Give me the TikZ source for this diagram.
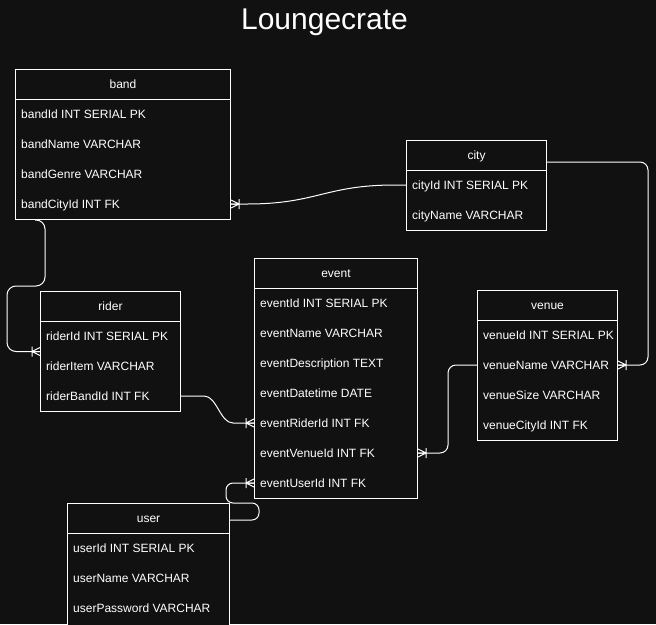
\documentclass[tikz,border=0pt]{standalone}
\usepackage{fontspec}
\setmainfont{Liberation Sans}
\usetikzlibrary{calc}
\definecolor{bg}{RGB}{17,17,17}
\tikzset{
  tbl/.style={draw=white, fill=bg, line width=1pt, inner sep=0pt, rectangle, anchor=north west},
  tblline/.style={draw=white, line width=1pt},
  hdr/.style={text=white, inner sep=0pt, anchor=base, font=\fontsize{12}{14}\selectfont},
  rowtxt/.style={text=white, inner sep=0pt, anchor=base west, font=\fontsize{12}{14}\selectfont},
  titletxt/.style={text=white, inner sep=0pt, anchor=base, font=\fontsize{30}{36}\selectfont},
  conn/.style={draw=white, line width=1pt, line join=round},
  crow/.pic={\draw[conn] (0,4) -- (8,0) -- (0,-4) (0,0) -- (8,0) (8,-5) -- (8,5);}
}
\newcommand{\ertable}[7]{% name, left, top, width, height, title, rows
  \node[tbl, minimum width=#4pt, minimum height=#5pt] (#1) at (#2,#3) {};
  \draw[tblline] ([yshift=-30pt]#1.north west) -- ([yshift=-30pt]#1.north east);
  \node[hdr] (#1-h) at ([yshift=-19.3pt]#1.north) {#6};
  \foreach \t [count=\i] in {#7} {
    \coordinate (#1-r\i) at ([yshift={-(45+30*(\i-1))*1pt}]#1.north west);
    \node[rowtxt] (#1-t\i) at ($(#1-r\i)+(6,4.3)$) {\t};
  }
}
\begin{document}
\begin{tikzpicture}[x=1pt,y=-1pt]
\useasboundingbox (0,0) rectangle (656,624);
\fill[bg] (0,0) rectangle (656,624);
\node[titletxt] (title) at (324.5,29) {Loungecrate};

\ertable{band}{15}{69}{215}{150}{band}{bandId INT SERIAL PK, bandName VARCHAR, bandGenre VARCHAR, bandCityId INT FK}
\ertable{city}{406}{140}{140}{90}{city}{cityId INT SERIAL PK, cityName VARCHAR}
\ertable{rider}{40}{291}{140}{120}{rider}{riderId INT SERIAL PK, riderItem VARCHAR, riderBandId INT FK}
\ertable{event}{254}{258}{163}{240}{event}{eventId INT SERIAL PK, eventName VARCHAR, eventDescription TEXT, eventDatetime DATE, eventRiderId INT FK, eventVenueId INT FK, eventUserId INT FK}
\ertable{venue}{477}{290}{140}{150}{venue}{venueId INT SERIAL PK, venueName VARCHAR, venueSize VARCHAR, venueCityId INT FK}
\ertable{user}{67}{503}{162}{122}{user}{userId INT SERIAL PK, userName VARCHAR, userPassword VARCHAR}

% city -> band
\draw[conn] (city-r1) -- ++(-11,0) .. controls +(-70,0) and +(70,0) .. ($(band-r4 -| band.east)+(16,0)$) -- (band-r4 -| band.east);
\pic at (band-r4 -| band.east) {crow};
% band -> rider
\draw[conn, rounded corners=9pt] ($(band.south west)+(20,0)$) -- ($(band.south west)+(30,0)$) -- ($(band.south west)+(30,66)$) -| ($(rider.west)+(-33,0)$) -- (rider.west);
\pic[rotate=180] at (rider.west) {crow};
% rider -> event
\draw[conn] (rider-r3 -| rider.east) -- ++(23,0) .. controls +(13,0) and +(-13,0) .. ($(event-r5)+(-21,0)$) -- (event-r5);
\pic[rotate=180] at (event-r5) {crow};
% venue -> event
\draw[conn, rounded corners=8pt] (venue-r2) -| ($(event-r6 -| event.east)+(30,0)$) -- (event-r6 -| event.east);
\pic at (event-r6 -| event.east) {crow};
% city -> venue
\draw[conn, rounded corners=8pt] ($(city.north east)+(0,22)$) -- ($(city.north east)+(101,22)$) |- (venue-r2 -| venue.east);
\pic at (venue-r2 -| venue.east) {crow};
% user -> event
\draw[conn, rounded corners=7pt] ($(user.north east)+(0,17)$) -- ++(29,0) -- ++(0,-17) -- ++(-33,0) |- (event-r7);
\pic[rotate=180] at (event-r7) {crow};
\end{tikzpicture}
\end{document}
